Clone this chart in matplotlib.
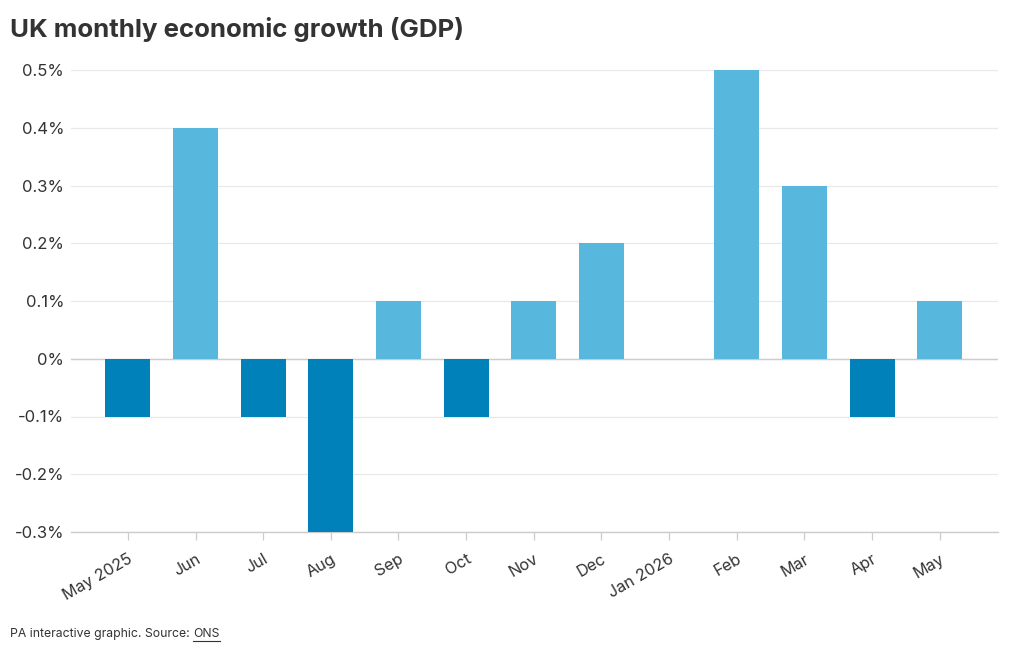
import matplotlib
matplotlib.use("Agg")
import matplotlib.pyplot as plt

plt.rcParams['font.family'] = ['Inter', 'DejaVu Sans']

# Data
months = ["May 2025", "Jun", "Jul", "Aug", "Sep", "Oct", "Nov",
          "Dec", "Jan 2026", "Feb", "Mar", "Apr", "May"]
growth = [-0.1, 0.4, -0.1, -0.3, 0.1, -0.1, 0.1, 0.2, 0.0, 0.5, 0.3, -0.1, 0.1]
y_ticks = [-0.3, -0.2, -0.1, 0, 0.1, 0.2, 0.3, 0.4, 0.5]
y_labels = ["-0.3%", "-0.2%", "-0.1%", "0%", "0.1%", "0.2%", "0.3%", "0.4%", "0.5%"]

light_blue = "#58b7dd"
dark_blue = "#0081b9"
colors = [dark_blue if v < 0 else light_blue for v in growth]

fig = plt.figure(figsize=(10.2, 6.5), dpi=100)
ax = fig.add_axes([71 / 1020, 1 - 532 / 650, (998 - 71) / 1020, (532 - 70) / 650])

x = list(range(len(months)))
ax.bar(x, growth, width=0.665, color=colors, zorder=3)

ax.set_xlim(-0.84, len(months) - 1 + 0.86)
ax.set_ylim(-0.3, 0.5)

# Gridlines
ax.set_yticks(y_ticks)
ax.set_yticklabels(y_labels, fontsize=12, color="#333333")
ax.grid(axis="y", color="#e8e8e8", linewidth=0.9, zorder=0)
ax.axhline(0, color="#cccccc", linewidth=1.0, zorder=2)
ax.tick_params(axis="y", length=0, pad=5)

ax.set_xticks(x)
ax.set_xticklabels(months, fontsize=11.7, color="#333333", rotation=30,
                   ha="right", rotation_mode="anchor")
ax.tick_params(axis="x", length=6, width=0.9, color="#cccccc", pad=8)

for side in ["top", "right", "left"]:
    ax.spines[side].set_visible(False)
ax.spines["bottom"].set_color("#cccccc")
ax.spines["bottom"].set_linewidth(1.0)

fig.text(10 / 1020, 1 - 30 / 650, "UK monthly economic growth (GDP)",
         fontsize=18.6, fontweight="bold", color="#333333", va="center")

# Footer with underlined source link
foot = fig.text(10 / 1020, 1 - 634 / 650, "PA interactive graphic. Source: ",
                fontsize=8.8, color="#333333", va="center")
fig.canvas.draw()
bb = foot.get_window_extent()
ons = fig.text(bb.x1 / fig.bbox.width, 1 - 634 / 650, "ONS", fontsize=8.8,
               color="#333333", va="center")
fig.canvas.draw()
ob = ons.get_window_extent()
fig.add_artist(plt.Line2D([ob.x0 / fig.bbox.width, ob.x1 / fig.bbox.width],
                          [(ob.y0 - 1) / fig.bbox.height] * 2,
                          color="#333333", linewidth=0.8,
                          transform=fig.transFigure))

fig.savefig("out.png", dpi=100)
